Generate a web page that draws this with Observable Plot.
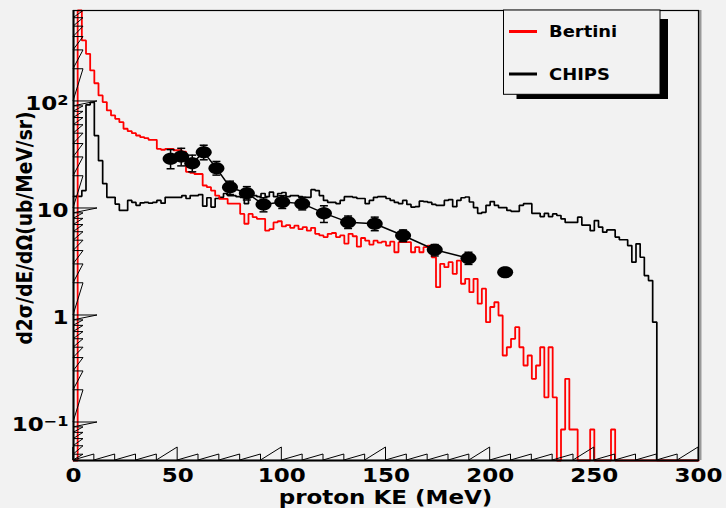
<!DOCTYPE html>
<html><head><meta charset="utf-8">
<script src="https://cdn.jsdelivr.net/npm/d3@7"></script>
<script src="https://cdn.jsdelivr.net/npm/@observablehq/plot@0.6"></script>
<style>
html,body{margin:0;padding:0;background:#f2f2f2;}
#chart{width:726px;height:508px;}
</style></head><body><div id="chart"></div>
<script>
// ---- data ----
const binWidth = 2; // MeV, 150 bins 0..300
const bertini = [
 0, 2000, 372, 279, 195, 148, 114, 98.6, 82.4, 74, 68.9, 64.1, 55.6, 52.8, 50.5, 48.1, 46.4, 45.4, 43.8, 43.8,
 36.1, 35.4, 36.1, 36.1, 35, 35, 34, 22, 21.5, 21, 21, 16.4, 15.8, 14.7, 13.2, 12.3, 12.3, 11.1, 11.1, 11.1,
 8.9, 7.2, 8.9, 8.3, 8.0, 8.0, 6.2, 6.4, 7.4, 7.6, 6.8, 7.0, 6.6, 6.9, 6.4, 6.7, 6.2, 6.6, 5.8, 5.6,
 5.4, 5.8, 5.9, 5.4, 5.6, 4.7, 5.8, 5.5, 4.4, 5.3, 5.0, 4.6, 5.0, 4.8, 4.9, 4.5, 4.9, 3.9, 4.84, 4.84,
 4.84, 3.9, 4.35, 3.9, 4.35, 4.5, 3.5, 1.84, 3.04, 2.83, 3.15, 2.45, 3.26, 1.98, 2.2, 1.65, 2.2, 1.29, 1.78, 0.866,
 1.2, 1.33, 1.0, 0.423, 0.505, 0.605, 0.778, 0.505, 0.341, 0.423, 0.256, 0.341, 0.505, 0.172, 0.505, 0.172, 0, 0.086, 0.256, 0.086,
 0.086, 0, 0, 0, 0.086, 0, 0, 0, 0, 0.086, 0, 0, 0, 0, 0, 0, 0, 0, 0, 0,
 0, 0, 0, 0, 0, 0, 0, 0, 0, 0
];
const chips = [
 13, 13, 14.7, 93, 98, 48, 28, 17.1, 12.7, 12.7, 11.0, 9.6, 9.6, 11.9, 11.4, 10.7, 11.3, 11.4, 11.2, 11.4,
 11.9, 11.2, 12.7, 12.7, 12.7, 12.7, 13.2, 12.4, 13.2, 13.2, 13.5, 10.5, 12.6, 10.3, 12.4, 12.7, 13.8, 13.2, 13.2, 12.9,
 12.7, 11.1, 13.2, 13.2, 12.9, 13.8, 12.9, 14.2, 12.9, 13.8, 14.1, 12.9, 13.2, 13.2, 12.9, 12.7, 12.7, 15.0, 14.7, 13.2,
 11.9, 11.4, 11.4, 11.1, 11.9, 12.9, 12.9, 12.7, 12.4, 12.4, 11.1, 11.9, 12.7, 12.9, 12.9, 12.4, 11.9, 11.4, 11.1, 11.9,
 10.9, 10.3, 10.4, 11.7, 11.6, 11.4, 10.9, 10.7, 10.7, 11.9, 12.1, 10.4, 11.9, 12.6, 12.8, 11.5, 10.2, 9.0, 9.2, 10.7,
 11.6, 10.7, 10.2, 10.2, 9.6, 9.4, 9.4, 10.7, 11.1, 11.1, 9.0, 9.0, 8.4, 9.0, 8.4, 8.9, 8.6, 8.0, 7.4, 7.4,
 7.4, 8.3, 7.0, 7.0, 6.2, 7.7, 6.7, 6.0, 6.3, 6.3, 5.4, 5.1, 5.1, 4.5, 3.15, 4.67, 3.5, 2.36, 2.12, 0.866,
 0, 0, 0, 0, 0, 0, 0, 0, 0, 0
];
const dataKE  = [46.6, 51.7, 57.0, 62.5, 68.6, 75.1, 83.2, 91.2, 100.2, 109.8, 120.2, 131.8, 144.6, 158.2, 173.4, 189.6, 207.2];
const dataXS  = [29.1, 30.6, 26.5, 33.6, 23.8, 15.8, 13.9, 10.9, 11.5, 11.1, 9.04, 7.45, 7.19, 5.59, 4.11, 3.43, 2.54];
const dataLo  = [23.5, 25.0, 22.0, 28.5, 20.5, 13.5, 12.0, 9.3, 10.0, 9.7, 7.4, 6.5, 6.2, 4.9, 3.6, 3.0, 2.3];
const dataHi  = [35.5, 36.5, 31.5, 39.0, 27.5, 18.0, 16.0, 12.6, 13.2, 12.7, 10.6, 8.5, 8.3, 6.3, 4.6, 3.9, 2.8];
const xTicks = d3.range(0, 301, 10);
const xLabelTicks = [0, 50, 100, 150, 200, 250, 300];
const yLabelTicks = [0.1, 1, 10, 100];
const yTickLabels = ["10^−1", "1", "10", "10^2"];
const xTitle = "proton KE (MeV)";
const yTitle = "d2σ/dE/dΩ(ub/MeV/sr)";
const legendLabels = ["Bertini", "CHIPS"];
const legendColors = ["#ff0000", "#000000"];
const yMin = 0.04415, yMax = 708;

// ---- build ----
const clampY = v => Math.max(yMin, Math.min(yMax, v));
function steps(vals) {
  const pts = vals.map((v, i) => ({x: i * binWidth, y: clampY(v)}));
  pts.push({x: vals.length * binWidth, y: clampY(vals[vals.length - 1])});
  return pts;
}
const points = dataKE.map((x, i) => ({x, y: dataXS[i], lo: dataLo[i], hi: dataHi[i]}));
const ellipse = {draw(ctx) {
  const rx = 8, ry = 6, k = 0.5523;
  ctx.moveTo(rx, 0);
  ctx.bezierCurveTo(rx, ry * k, rx * k, ry, 0, ry);
  ctx.bezierCurveTo(-rx * k, ry, -rx, ry * k, -rx, 0);
  ctx.bezierCurveTo(-rx, -ry * k, -rx * k, -ry, 0, -ry);
  ctx.bezierCurveTo(rx * k, -ry, rx, -ry * k, rx, 0);
  ctx.closePath();
}};
const cap = {draw(ctx) { ctx.moveTo(-4, 0); ctx.lineTo(4, 0); }};

const plot = Plot.plot({
  width: 726, height: 508,
  marginLeft: 73, marginRight: 28, marginTop: 10, marginBottom: 48,
  style: {background: "#f2f2f2", fontFamily: "'DejaVu Sans'", fontWeight: "bold", fontSize: "20px", color: "#000"},
  x: {domain: [0, 300]},
  y: {type: "log", domain: [yMin, yMax]},
  marks: [
    Plot.ruleX([300], {stroke: "#9a9a9a", strokeWidth: 3, dx: 1.5}),
    Plot.line(steps(chips), {x: "x", y: "y", curve: "step-after", stroke: "#000", strokeWidth: 1.7, strokeLinejoin: "miter"}),
    Plot.line(steps(bertini), {x: "x", y: "y", curve: "step-after", stroke: "#ff0000", strokeWidth: 1.8, strokeLinejoin: "miter"}),
    Plot.ruleX(points, {x: "x", y1: "lo", y2: "hi", stroke: "#000", strokeWidth: 1.5}),
    Plot.dot(points, {x: "x", y: "lo", symbol: cap, stroke: "#000", strokeWidth: 1.5, fill: "none"}),
    Plot.dot(points, {x: "x", y: "hi", symbol: cap, stroke: "#000", strokeWidth: 1.5, fill: "none"}),
    Plot.line(points.slice(0, 16), {x: "x", y: "y", stroke: "#000", strokeWidth: 1.5}),
    Plot.dot(points, {x: "x", y: "y", symbol: ellipse, fill: "#000", stroke: "none"}),
    Plot.axisX({ticks: xLabelTicks, tickSize: 0, tickPadding: 7, tickFormat: d => String(d), label: null}),
    Plot.axisY({ticks: yLabelTicks, tickSize: 0, tickPadding: 5, tickFormat: d => yTickLabels[yLabelTicks.indexOf(d)], label: null, dy: 2}),
    Plot.frame({stroke: "#000", strokeWidth: 1.2}),
    Plot.ruleX([0], {stroke: "#000", strokeWidth: 2}),
    Plot.ruleY([yMin], {stroke: "#000", strokeWidth: 2})
  ]
});
document.getElementById("chart").appendChild(plot);

// ---- decorations using the plot's scales ----
const svg = d3.select(plot);
const sx = plot.scale("x"), sy = plot.scale("y");
const X = sx.apply ? v => sx.apply(v) : d3.scaleLinear(sx.domain, sx.range);
const Y = sy.apply ? v => sy.apply(v) : d3.scaleLog(sy.domain, sy.range);
const baseY = Y(yMin), left = X(0);

// sawtooth ticks on x
let dx = `M${X(xTicks[0])},${baseY}`;
for (const t of xTicks) {
  const h = xLabelTicks.includes(t) ? 13 : 6;
  dx += `L${X(t)},${baseY - h}L${X(t)},${baseY}`;
}
svg.append("path").attr("d", dx).attr("fill", "none").attr("stroke", "#000").attr("stroke-width", 1);
// zig-zag ticks on y
const yTicksAll = [];
for (let k = -2; k <= 2; k++) for (let m = 1; m <= 9; m++) {
  const v = m * Math.pow(10, k);
  if (v >= yMin && v <= yMax) yTicksAll.push({v, major: m === 1});
}
let dy = `M${left},${baseY}`;
for (const t of yTicksAll) {
  const h = t.major ? 24 : 10;
  dy += `L${left + h},${Y(t.v)}L${left},${Y(t.v)}`;
}
svg.append("path").attr("d", dy).attr("fill", "none").attr("stroke", "#000").attr("stroke-width", 1);

// superscripts on y tick labels
svg.selectAll('g[aria-label="y-axis tick label"] text').each(function() {
  const s = this.textContent;
  if (s.includes("^")) {
    const [b, e] = s.split("^");
    this.textContent = b;
    d3.select(this).append("tspan").attr("dy", "-0.35em").attr("font-size", 14).text(e);
  }
});

// titles
svg.append("text").attr("x", (X(0) + X(300)) / 2).attr("y", 504)
  .attr("text-anchor", "middle").attr("class", "ttl").text(xTitle);
svg.append("text").attr("transform", `translate(32,${228}) rotate(-90)`)
  .attr("text-anchor", "middle").attr("font-size", 21).attr("class", "ttl ytl").text(yTitle);

// legend
const lg = svg.append("g").attr("text-anchor", "start");
lg.append("rect").attr("x", 516.5).attr("y", 19).attr("width", 151.5).attr("height", 80).attr("fill", "#000");
lg.append("rect").attr("x", 503.5).attr("y", 10).attr("width", 156.5).attr("height", 84.3)
  .attr("fill", "#f2f2f2").attr("stroke", "#000").attr("stroke-width", 1);
legendLabels.forEach((lab, i) => {
  const cy = 31.5 + i * 42.5;
  lg.append("line").attr("x1", 509).attr("x2", 537).attr("y1", cy).attr("y2", cy)
    .attr("stroke", legendColors[i]).attr("stroke-width", 3);
  lg.append("text").attr("x", 549).attr("y", cy).attr("dy", "0.36em")
    .attr("text-anchor", "start").attr("font-size", 16).attr("class", "lgt").text(lab);
});

// horizontal stretch of ROOT-like text
function stretch(sel, f) {
  sel.each(function() {
    const len = this.getComputedTextLength();
    this.setAttribute("textLength", len * f);
    this.setAttribute("lengthAdjust", "spacingAndGlyphs");
  });
}
stretch(svg.selectAll('g[aria-label="x-axis tick label"] text'), 1.15);
stretch(svg.selectAll('g[aria-label="y-axis tick label"] text'), 1.15);
stretch(svg.selectAll("text.ttl:not(.ytl)"), 1.15);
svg.select("text.ytl").each(function() {
  this.setAttribute("textLength", 233);
  this.setAttribute("lengthAdjust", "spacingAndGlyphs");
});
stretch(svg.selectAll("text.lgt"), 1.12);
</script>
</body></html>
